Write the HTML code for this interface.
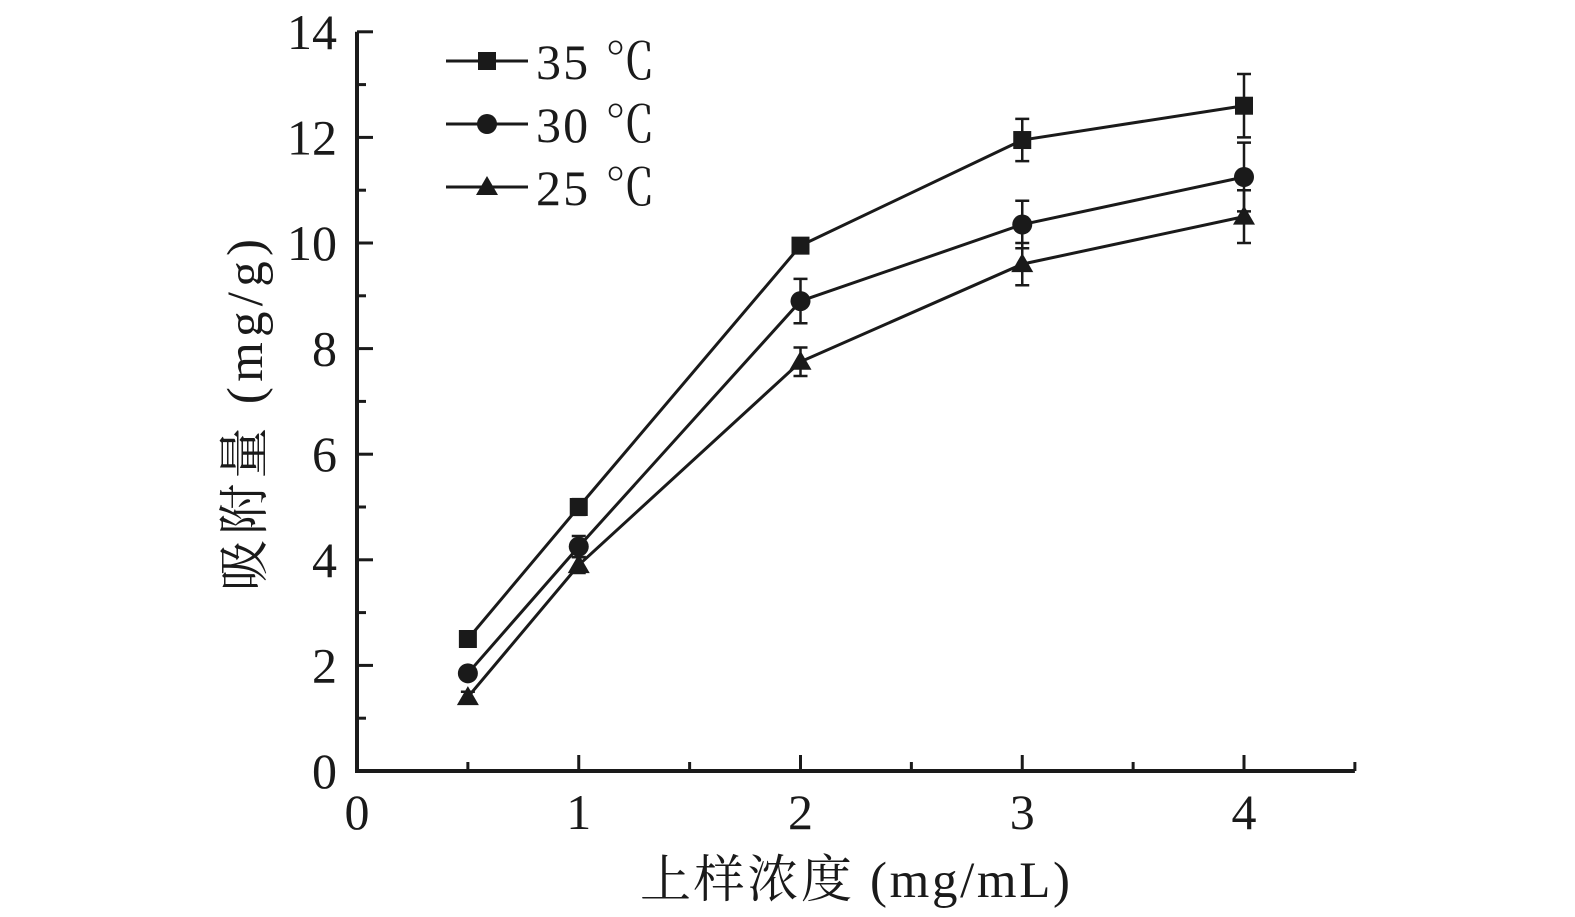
<!DOCTYPE html>
<html><head><meta charset="utf-8"><style>
html,body{margin:0;padding:0;background:#fff;}
svg{display:block;font-family:"Liberation Serif","Noto Serif CJK SC",serif;}
</style></head><body>
<svg id="chart" width="1575" height="917" viewBox="0 0 1575 917" xmlns="http://www.w3.org/2000/svg"></svg>
<script>
const xCats=[0.5,1,2,3,4];
const s35=[2.5,5.0,9.95,11.95,12.6];
const e35=[0.1,0.15,0.1,0.4,0.6];
const s30=[1.85,4.25,8.9,10.35,11.25];
const e30=[0.1,0.2,0.42,0.45,0.65];
const s25=[1.4,3.9,7.75,9.6,10.5];
const e25=[0.1,0.15,0.27,0.4,0.5];
const xTicks=[0,1,2,3,4];
const yTicks=[0,2,4,6,8,10,12,14];
const seriesNames=["35 ℃","30 ℃","25 ℃"];

const NS="http://www.w3.org/2000/svg";
const svg=document.getElementById('chart');
const X0=357,XU=221.75,Y0=771,YU=52.8;
const xs=v=>X0+v*XU, ys=v=>Y0-v*YU;
function mk(t,a,p){const e=document.createElementNS(NS,t);for(const k in a)e.setAttribute(k,a[k]);(p||svg).appendChild(e);return e;}
const K="#1a1a1a";
const ax=mk('path',{d:`M${X0} ${ys(14)} V${Y0} H${xs(4.5)}`,fill:'none',stroke:K,'stroke-width':4});


for(let v=0;v<=14;v+=1){const maj=v%2==0;const t=mk('line',{x1:X0,x2:X0+(maj?16:9),y1:ys(v),y2:ys(v),stroke:K,'stroke-width':3});

}
for(let v=0.5;v<=4.5;v+=0.5){const maj=Math.abs(v-Math.round(v))<1e-6;const t=mk('line',{x1:xs(v),x2:xs(v),y1:Y0,y2:Y0-(maj?16:9),stroke:K,'stroke-width':3});

}
yTicks.forEach(v=>{const t=mk('text',{x:X0-20,y:ys(v)+17,'text-anchor':'end','font-size':50,fill:K});t.textContent=v;

});
xTicks.forEach(v=>{const t=mk('text',{x:xs(v),y:829,'text-anchor':'middle','font-size':50,fill:K});t.textContent=v;

});
const xt=mk('text',{x:855,y:897,'text-anchor':'middle','font-size':51,'textLength':430,fill:K});xt.textContent='上样浓度 (mg/mL)';


const yt=mk('text',{x:0,y:0,'text-anchor':'middle','font-size':51,'textLength':352,fill:K,transform:'translate(262,415) rotate(-90)'});yt.textContent='吸附量 (mg/g)';



function marker(type,cx,cy,g){
  if(type==0)return mk('rect',{x:cx-9,y:cy-9,width:18,height:18,fill:K},g);
  if(type==1)return mk('circle',{cx:cx,cy:cy,r:10,fill:K},g);
  return mk('polygon',{points:`${cx},${cy-11} ${cx+11},${cy+8} ${cx-11},${cy+8}`,fill:K},g);
}
const all=[[s35,e35],[s30,e30],[s25,e25]];
const names=['series-35c','series-30c','series-25c'];
all.forEach(([vals,errs],si)=>{
  const g=mk('g',{});
  
  
  mk('polyline',{points:xCats.map((x,i)=>xs(x)+','+ys(vals[i])).join(' '),fill:'none',stroke:K,'stroke-width':3},g);
  xCats.forEach((x,i)=>{
    const cx=xs(x),t=ys(vals[i]+errs[i]),b=ys(vals[i]-errs[i]);
    const eb=mk('path',{d:`M${cx} ${t}V${b}M${cx-7} ${t}H${cx+7}M${cx-7} ${b}H${cx+7}`,stroke:K,'stroke-width':2.5,fill:'none'},g);
    
    
    const m=marker(si,cx,ys(vals[i]),g);
    
    
  });
});
const lg=mk('g',{});


seriesNames.forEach((n,i)=>{
  const y=61+i*63;
  const e=mk('g',{},lg);
  
  
  mk('line',{x1:446,x2:528,y1:y,y2:y,stroke:K,'stroke-width':3},e);
  marker(i,487,y,e);
  const t=mk('text',{x:536,y:y+18,'font-size':50,'textLength':119,fill:K},e);t.textContent=n;
});
</script>
</body></html>
